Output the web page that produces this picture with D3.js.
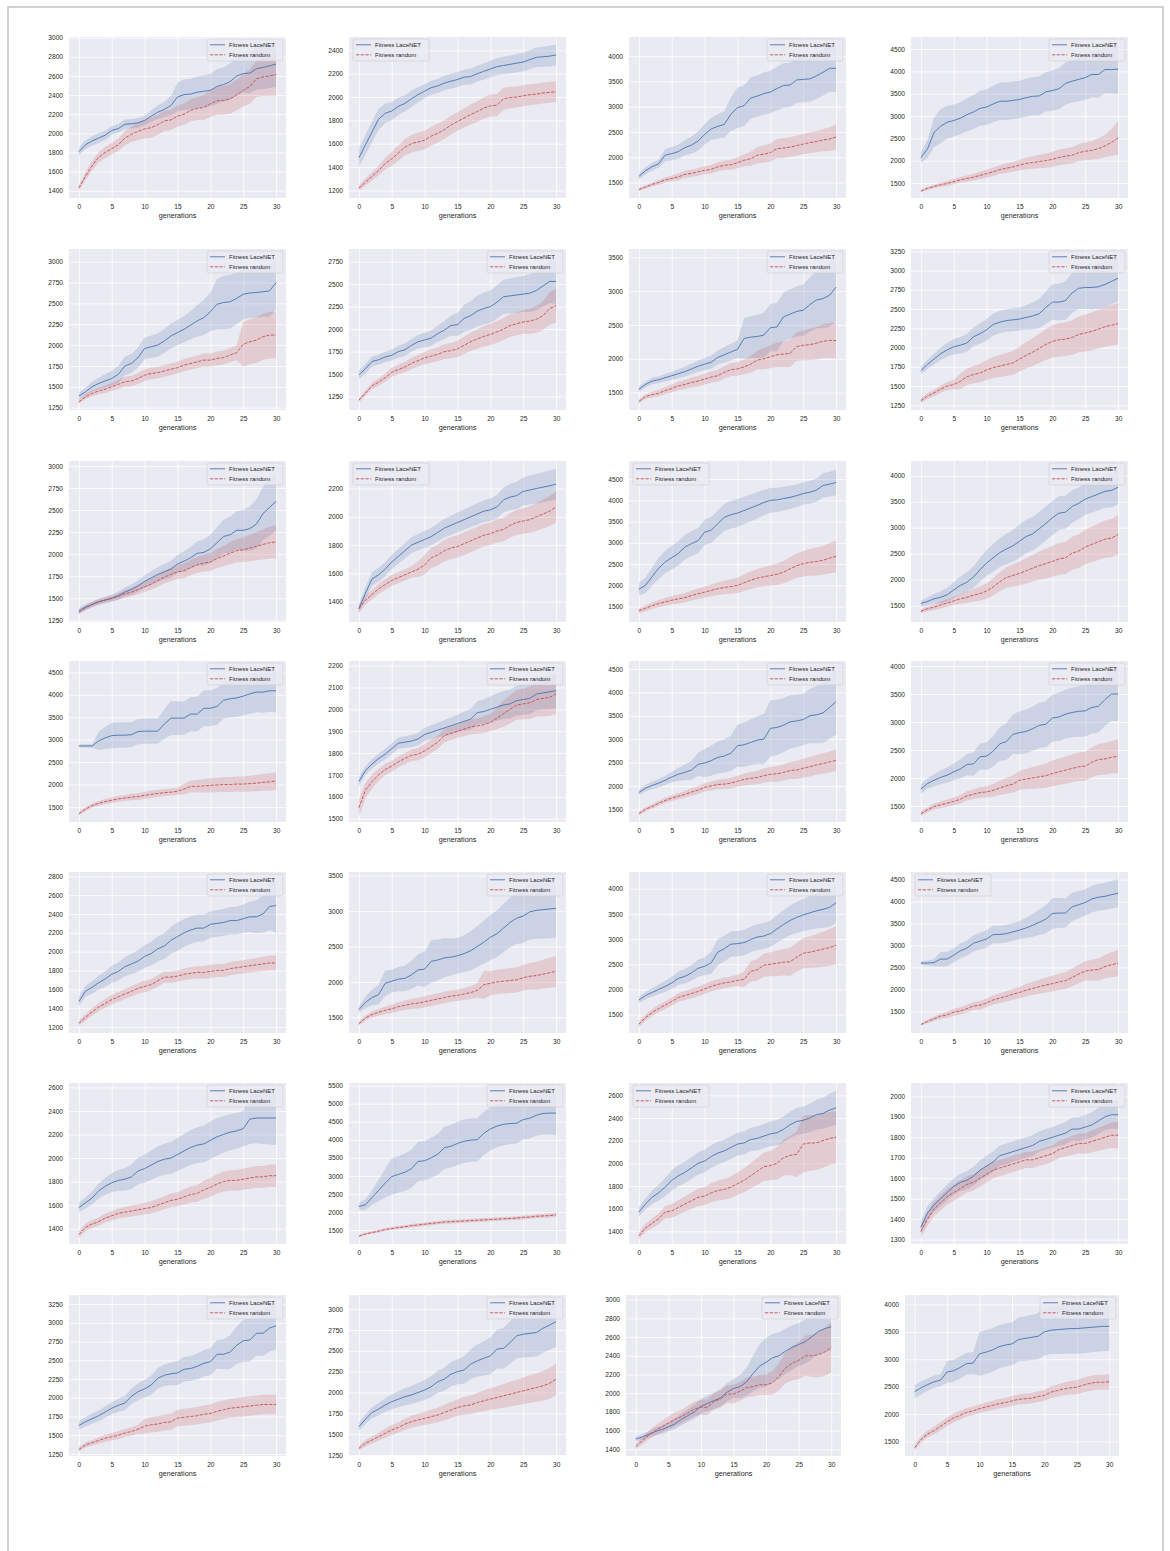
<!DOCTYPE html>
<html>
<head>
<meta charset="utf-8">
<script src="https://cdn.jsdelivr.net/npm/d3@7"></script>
<style>
  body { margin: 0; background: #fff; }
  svg text { font-family: "Liberation Sans", Arial, sans-serif; fill: #262626; }
</style>
</head>
<body>
<div id="chart"></div>
<script>
// 28 runs, 31 generations each: mean fitness and half-width of the shaded band

const generations = [0,1,2,3,4,5,6,7,8,9,10,11,12,13,14,15,16,17,18,19,20,21,22,23,24,25,26,27,28,29,30]

const laceMean = [
  [1808,1880,1920,1950,1980,2030,2050,2095,2100,2110,2135,2180,2220,2250,2290,2380,2405,2410,2430,2440,2450,2490,2510,2540,2600,2625,2630,2675,2690,2705,2725],
  [1479,1590,1700,1810,1860,1880,1920,1945,1985,2020,2050,2080,2095,2120,2135,2150,2170,2175,2200,2220,2240,2260,2270,2280,2290,2300,2320,2340,2345,2350,2360],
  [1620,1730,1810,1870,2040,2070,2110,2190,2240,2320,2450,2560,2610,2650,2850,2980,3020,3170,3210,3260,3290,3360,3420,3430,3530,3540,3550,3610,3680,3760,3760],
  [2070,2260,2630,2770,2860,2900,2950,3030,3090,3170,3200,3270,3330,3330,3350,3370,3410,3440,3450,3540,3570,3610,3730,3780,3820,3860,3930,3930,4040,4040,4050],
  [1390,1440,1500,1540,1570,1600,1650,1750,1780,1850,1960,1980,2000,2050,2110,2150,2190,2240,2290,2330,2400,2490,2510,2520,2560,2610,2625,2630,2640,2650,2750],
  [1490,1560,1640,1660,1690,1710,1750,1770,1820,1860,1880,1900,1950,1990,2040,2050,2120,2150,2200,2230,2250,2300,2360,2370,2380,2390,2400,2430,2480,2530,2530],
  [1550,1620,1670,1690,1720,1750,1780,1810,1850,1890,1920,1950,2020,2060,2100,2140,2300,2320,2330,2350,2460,2470,2620,2660,2700,2720,2800,2870,2890,2940,3060],
  [1700,1780,1850,1920,1970,2010,2030,2060,2140,2180,2230,2300,2330,2350,2360,2370,2390,2410,2440,2520,2590,2590,2610,2710,2770,2780,2780,2790,2820,2860,2900],
  [1360,1400,1430,1460,1480,1500,1530,1570,1600,1640,1690,1730,1770,1800,1830,1890,1920,1960,2010,2020,2060,2130,2200,2220,2270,2270,2290,2340,2460,2530,2600],
  [1350,1460,1560,1590,1630,1680,1720,1760,1800,1820,1840,1860,1890,1920,1940,1960,1980,2000,2020,2040,2050,2070,2120,2140,2150,2180,2190,2200,2210,2220,2230],
  [1910,2000,2200,2400,2550,2650,2750,2900,2980,3050,3250,3300,3450,3600,3660,3700,3760,3820,3880,3950,4000,4010,4040,4070,4110,4160,4190,4240,4350,4380,4420],
  [1540,1580,1630,1660,1710,1800,1890,1950,2050,2190,2320,2420,2520,2590,2650,2740,2830,2880,2980,3080,3190,3280,3300,3410,3470,3550,3600,3650,3700,3720,3780],
  [2860,2860,2860,2970,3040,3090,3100,3100,3110,3180,3190,3190,3190,3350,3480,3480,3480,3570,3570,3700,3700,3740,3880,3910,3930,3970,4020,4060,4060,4090,4090],
  [1670,1720,1750,1775,1795,1820,1845,1850,1855,1865,1885,1895,1905,1915,1925,1935,1945,1955,1985,1990,2000,2010,2020,2025,2040,2045,2050,2070,2075,2080,2085],
  [1860,1950,2010,2060,2120,2190,2250,2290,2340,2460,2490,2540,2610,2640,2700,2860,2880,2930,2980,3000,3230,3250,3300,3370,3390,3420,3500,3520,3560,3680,3800],
  [1800,1900,1960,2010,2050,2110,2160,2240,2250,2380,2390,2480,2610,2650,2780,2810,2830,2880,2940,2960,3070,3090,3140,3170,3190,3200,3260,3280,3400,3500,3500],
  [1470,1580,1620,1670,1710,1760,1790,1840,1870,1900,1950,1980,2030,2060,2120,2160,2200,2230,2250,2250,2290,2300,2310,2330,2330,2350,2370,2370,2400,2480,2490],
  [1610,1710,1780,1820,1980,2010,2040,2050,2100,2170,2180,2290,2310,2340,2350,2370,2400,2440,2500,2560,2630,2680,2760,2840,2900,2930,2990,3010,3020,3030,3040],
  [1790,1880,1940,2000,2060,2130,2220,2260,2330,2420,2460,2530,2740,2810,2900,2910,2930,2990,3040,3060,3110,3200,3290,3370,3430,3480,3520,3560,3590,3630,3720],
  [2600,2600,2610,2690,2690,2780,2880,2940,3050,3100,3150,3250,3250,3270,3310,3350,3400,3460,3530,3600,3730,3740,3740,3880,3930,3980,4060,4100,4120,4160,4190],
  [1580,1620,1660,1720,1760,1790,1810,1820,1840,1890,1910,1940,1970,1990,2000,2030,2060,2090,2110,2120,2150,2180,2200,2220,2230,2250,2330,2340,2340,2340,2340],
  [2150,2200,2400,2600,2800,2980,3040,3100,3200,3400,3420,3500,3600,3780,3820,3900,3960,3990,4000,4180,4300,4380,4430,4450,4460,4560,4600,4680,4730,4740,4740],
  [1570,1640,1700,1740,1790,1850,1890,1920,1960,2000,2020,2060,2090,2110,2140,2170,2180,2210,2220,2240,2260,2270,2300,2340,2370,2380,2400,2430,2440,2470,2490],
  [1360,1430,1470,1500,1530,1560,1580,1590,1610,1640,1660,1680,1710,1720,1730,1740,1750,1760,1780,1790,1800,1810,1820,1840,1840,1850,1860,1880,1900,1910,1910],
  [1630,1680,1720,1760,1810,1860,1900,1930,2020,2080,2120,2170,2260,2300,2320,2330,2380,2390,2420,2460,2480,2580,2580,2610,2700,2760,2770,2860,2860,2930,2960],
  [1590,1680,1760,1800,1850,1890,1920,1950,1970,2000,2030,2070,2130,2160,2220,2250,2270,2340,2380,2410,2440,2520,2530,2600,2680,2700,2710,2720,2770,2810,2850],
  [1510,1530,1560,1590,1610,1640,1670,1720,1760,1800,1860,1890,1920,1950,2010,2050,2070,2120,2210,2290,2330,2380,2400,2450,2490,2520,2550,2600,2660,2690,2710],
  [2410,2480,2540,2590,2620,2770,2790,2850,2920,2930,3100,3130,3170,3230,3260,3280,3360,3380,3400,3420,3500,3530,3540,3550,3560,3560,3570,3580,3590,3600,3600]
]

const laceSpread = [
  [40,45,50,50,50,45,45,50,50,50,50,60,70,80,100,150,160,160,165,165,170,180,180,190,200,200,210,220,230,230,240],
  [80,85,90,90,85,80,75,70,70,65,60,60,60,62,64,65,66,67,68,69,70,72,74,76,78,80,82,84,86,88,90],
  [60,70,75,80,120,130,140,150,170,190,200,220,240,260,330,400,400,410,410,415,420,430,440,440,450,450,450,460,460,470,470],
  [120,200,330,380,370,360,360,370,380,390,400,410,420,420,420,420,425,430,435,440,450,460,470,480,490,500,510,520,530,540,550],
  [40,50,60,70,80,90,100,110,115,120,130,135,140,145,150,150,160,170,190,210,230,300,320,320,310,300,300,300,300,310,320],
  [50,52,55,57,58,60,65,70,72,75,80,85,90,100,110,130,150,160,170,175,180,185,190,195,198,200,210,220,230,240,250],
  [40,45,48,52,56,60,66,72,78,84,90,98,106,114,122,130,300,310,320,330,350,355,360,365,370,380,400,420,440,470,500],
  [50,60,70,80,90,100,108,116,124,132,140,142,144,146,148,150,160,175,190,210,230,240,250,260,270,280,285,290,295,298,300],
  [30,32,34,36,38,40,46,52,58,64,70,76,82,88,94,100,112,124,136,148,160,175,190,205,218,230,250,280,300,320,330],
  [30,40,50,50,50,50,52,54,56,58,60,62,64,66,68,70,72,74,76,78,80,84,88,92,96,100,102,104,106,108,110],
  [150,180,210,250,265,280,285,290,295,298,300,305,310,320,325,330,325,318,310,300,290,285,280,275,268,260,268,276,284,292,300],
  [60,78,96,114,132,150,170,190,210,230,250,264,278,292,306,320,322,324,326,328,330,324,318,312,306,300,306,312,318,324,330],
  [30,35,40,200,250,280,280,280,280,280,280,280,280,330,380,375,370,380,385,395,400,405,410,415,420,430,440,450,460,470,480],
  [20,21,22,23,24,25,26,27,28,29,30,32,34,36,38,40,44,48,52,56,60,62,64,66,68,70,72,74,76,78,80],
  [60,70,80,90,100,110,140,170,200,250,300,320,340,360,380,450,470,490,510,540,600,590,580,570,560,550,580,610,640,670,700],
  [80,94,108,122,136,150,170,190,210,230,250,276,302,328,354,380,388,396,404,412,420,428,436,444,452,460,464,468,472,476,480],
  [50,58,66,74,82,90,96,102,108,114,120,126,132,138,144,150,148,146,144,142,140,142,144,146,148,150,160,175,200,250,290],
  [50,80,110,140,180,160,170,180,200,220,250,300,290,275,260,250,260,275,290,305,320,330,340,350,365,380,390,400,410,415,420],
  [60,72,84,96,108,120,132,144,156,168,180,220,260,255,250,250,252,254,256,258,260,272,284,296,308,320,336,352,368,384,400],
  [40,60,80,170,165,160,168,176,184,192,200,200,200,200,200,200,230,260,290,320,350,340,330,320,310,300,304,308,312,316,320],
  [40,48,56,64,72,80,88,96,104,112,120,124,128,132,136,140,144,148,152,156,160,158,156,154,152,150,210,215,220,225,230],
  [100,150,200,300,400,500,510,520,530,540,550,560,570,580,590,600,600,600,600,600,600,590,580,570,560,550,560,570,580,590,600],
  [40,50,60,70,80,90,92,94,96,98,100,100,100,100,100,100,102,104,106,108,110,112,114,116,118,120,126,132,138,144,150],
  [30,32,34,36,38,40,42,44,46,48,50,50,50,50,50,50,50,50,50,50,50,52,54,56,58,60,62,64,66,68,70],
  [60,64,68,72,76,80,88,96,104,112,120,128,136,144,152,160,164,168,172,176,180,190,200,225,250,280,288,296,304,312,320],
  [50,58,66,74,82,90,96,102,108,114,120,126,132,138,144,150,164,178,192,206,220,232,244,256,268,280,284,288,292,296,300],
  [25,30,35,40,45,50,56,62,68,74,80,84,88,92,96,100,125,150,190,230,260,254,248,242,236,230,234,238,242,246,250],
  [120,118,116,114,110,200,200,200,200,200,400,398,396,394,392,390,398,406,414,422,430,436,442,448,454,460,458,456,454,452,450]
]

const randMean = [
  [1430,1550,1660,1750,1800,1840,1880,1950,1990,2020,2045,2060,2090,2130,2140,2180,2200,2240,2260,2270,2310,2340,2345,2360,2400,2450,2490,2570,2590,2600,2615],
  [1220,1270,1320,1370,1430,1470,1520,1570,1600,1615,1630,1665,1690,1720,1760,1790,1820,1850,1875,1905,1925,1930,1985,1995,2000,2010,2020,2025,2035,2040,2045],
  [1360,1410,1460,1500,1550,1580,1610,1660,1680,1710,1740,1760,1810,1840,1850,1890,1940,1970,2040,2060,2090,2170,2180,2200,2230,2260,2290,2310,2340,2360,2400],
  [1320,1380,1420,1460,1490,1530,1570,1600,1630,1670,1710,1750,1800,1830,1860,1900,1940,1960,1980,2000,2030,2070,2100,2120,2180,2210,2230,2270,2330,2410,2510],
  [1320,1380,1420,1450,1470,1500,1530,1560,1570,1600,1640,1660,1670,1690,1710,1730,1760,1780,1800,1820,1820,1840,1850,1880,1910,2010,2040,2060,2100,2120,2120],
  [1210,1290,1370,1410,1460,1520,1550,1580,1620,1650,1680,1700,1720,1750,1760,1780,1820,1860,1890,1920,1940,1970,2000,2040,2060,2080,2090,2110,2150,2230,2260],
  [1370,1440,1470,1490,1530,1560,1600,1620,1650,1670,1700,1730,1750,1800,1840,1850,1880,1920,1980,2000,2030,2060,2070,2080,2180,2200,2210,2230,2260,2270,2270],
  [1310,1370,1410,1460,1500,1520,1560,1620,1650,1670,1710,1740,1760,1780,1800,1850,1900,1940,1990,2040,2080,2100,2110,2130,2170,2190,2210,2240,2270,2290,2310],
  [1340,1390,1430,1460,1480,1500,1520,1550,1570,1600,1630,1660,1700,1740,1770,1800,1810,1850,1880,1900,1910,1950,1980,2010,2040,2050,2070,2090,2110,2130,2140],
  [1350,1410,1450,1490,1520,1550,1570,1590,1610,1630,1660,1710,1730,1760,1780,1790,1810,1830,1850,1870,1880,1900,1910,1940,1960,1970,1980,2000,2020,2040,2070],
  [1400,1460,1520,1570,1610,1650,1680,1710,1760,1800,1840,1880,1920,1950,1970,2000,2060,2120,2170,2200,2230,2260,2310,2390,2460,2510,2540,2560,2590,2640,2680],
  [1390,1440,1470,1510,1550,1590,1630,1660,1700,1730,1780,1860,1960,2040,2080,2120,2170,2220,2270,2310,2350,2400,2420,2510,2550,2630,2680,2730,2780,2800,2870],
  [1350,1450,1530,1580,1620,1650,1680,1700,1720,1730,1760,1780,1800,1820,1830,1850,1900,1960,1960,1970,1980,1990,2000,2000,2010,2010,2020,2030,2050,2060,2080],
  [1550,1630,1670,1700,1725,1740,1760,1775,1790,1795,1810,1830,1850,1880,1890,1900,1910,1920,1925,1930,1940,1960,1980,2000,2020,2025,2030,2045,2050,2055,2070],
  [1410,1500,1560,1630,1690,1740,1780,1820,1870,1910,1970,2000,2030,2040,2060,2100,2140,2160,2180,2220,2250,2260,2290,2330,2340,2380,2410,2450,2480,2510,2550],
  [1360,1430,1490,1520,1550,1580,1620,1680,1710,1740,1750,1780,1820,1860,1890,1960,1980,2000,2020,2040,2080,2110,2140,2170,2200,2210,2280,2330,2340,2370,2390],
  [1240,1300,1360,1410,1450,1490,1520,1550,1580,1610,1630,1650,1690,1730,1730,1740,1760,1770,1780,1780,1790,1800,1800,1820,1830,1840,1850,1860,1870,1880,1880],
  [1410,1490,1540,1570,1600,1620,1650,1670,1690,1700,1720,1740,1760,1780,1800,1810,1830,1850,1880,1960,1980,2000,2010,2020,2030,2060,2080,2090,2110,2130,2150],
  [1310,1440,1540,1620,1690,1760,1840,1880,1920,1960,2010,2060,2100,2130,2150,2180,2200,2360,2390,2480,2500,2520,2540,2550,2640,2720,2740,2770,2800,2830,2880],
  [1200,1270,1330,1390,1420,1480,1510,1560,1620,1640,1690,1760,1800,1840,1890,1930,1980,2020,2060,2100,2130,2170,2200,2270,2350,2420,2440,2450,2520,2560,2600],
  [1350,1410,1440,1460,1490,1510,1530,1540,1550,1560,1570,1580,1600,1620,1640,1650,1670,1690,1700,1730,1750,1780,1800,1810,1810,1820,1830,1840,1840,1850,1850],
  [1330,1390,1430,1470,1510,1540,1570,1590,1620,1640,1660,1680,1700,1720,1730,1740,1750,1760,1770,1780,1790,1800,1810,1820,1830,1850,1860,1880,1890,1900,1920],
  [1360,1430,1470,1510,1570,1580,1610,1640,1670,1700,1710,1740,1760,1770,1790,1820,1850,1890,1930,1970,1980,2000,2050,2070,2080,2170,2180,2180,2200,2220,2230],
  [1340,1400,1450,1480,1510,1530,1550,1570,1580,1600,1620,1640,1650,1660,1670,1680,1690,1690,1700,1710,1720,1740,1750,1760,1770,1770,1780,1790,1800,1810,1810],
  [1310,1370,1400,1430,1460,1480,1500,1530,1550,1580,1620,1640,1650,1670,1680,1730,1740,1750,1760,1780,1790,1820,1840,1860,1870,1880,1890,1900,1910,1910,1910],
  [1330,1390,1430,1470,1510,1550,1580,1620,1650,1670,1690,1710,1730,1760,1790,1820,1840,1850,1880,1900,1920,1940,1960,1980,2000,2020,2040,2060,2080,2110,2160],
  [1430,1490,1550,1600,1640,1680,1720,1750,1790,1830,1850,1850,1910,1940,1990,1990,2020,2060,2070,2090,2090,2110,2180,2270,2320,2350,2400,2400,2410,2440,2490],
  [1390,1540,1640,1700,1780,1860,1930,1980,2030,2060,2100,2130,2160,2190,2210,2240,2270,2280,2290,2320,2340,2400,2430,2460,2480,2490,2530,2560,2580,2580,2590]
]

const randSpread = [
  [30,40,50,55,60,60,65,75,80,90,100,105,105,105,105,110,110,115,120,130,140,145,150,155,160,170,180,190,200,210,220],
  [25,30,35,40,50,60,65,70,75,78,80,80,80,80,80,80,82,85,88,92,95,95,95,92,90,90,90,90,90,90,90],
  [30,35,40,45,55,60,65,70,72,75,80,85,90,95,100,110,120,140,160,170,180,190,195,195,198,200,205,210,220,235,250],
  [30,35,40,45,55,60,65,70,75,80,90,95,100,105,110,120,130,140,150,160,170,175,180,185,190,200,210,230,250,300,380],
  [25,30,35,40,45,50,55,60,62,65,70,70,70,70,70,70,72,74,76,78,80,82,84,86,90,270,270,275,275,280,280],
  [25,30,35,40,45,50,55,58,62,66,70,74,78,82,86,90,96,102,108,114,120,122,124,126,128,130,140,150,160,180,190],
  [30,36,42,48,54,60,64,68,72,76,80,84,88,92,96,100,110,125,140,155,170,180,190,200,210,220,230,240,250,260,270],
  [30,36,42,48,54,60,100,106,112,120,130,136,142,148,154,160,170,180,190,200,210,215,220,225,232,240,245,250,258,264,270],
  [25,26,27,28,29,30,36,42,48,54,60,64,68,72,76,80,84,88,92,96,100,108,116,124,132,140,150,160,170,180,190],
  [30,32,34,36,38,40,40,40,40,55,70,72,74,76,78,80,80,80,80,80,80,82,84,86,88,90,94,98,102,106,110],
  [60,68,76,84,92,100,106,112,118,124,130,140,150,160,170,180,192,204,216,228,240,252,264,276,288,300,314,328,342,356,370],
  [40,48,56,64,72,80,94,108,122,136,150,166,182,198,214,230,244,258,272,286,300,306,312,318,324,330,340,350,360,370,380],
  [40,45,50,54,58,60,64,68,72,76,80,80,80,80,80,80,120,130,140,150,160,162,164,166,168,170,176,182,188,194,200],
  [40,36,32,28,26,25,25,26,27,28,30,30,30,30,30,30,32,34,36,38,40,50,60,64,68,70,74,78,82,86,90],
  [40,44,48,52,56,60,66,72,78,84,90,96,102,108,114,120,128,136,144,152,160,168,176,184,192,200,206,212,218,224,230],
  [40,46,52,58,64,70,76,82,88,94,100,114,128,142,156,170,182,194,206,218,230,236,242,248,254,260,268,276,284,292,300],
  [30,34,38,42,46,50,52,54,56,58,60,60,60,60,60,60,62,64,66,68,70,70,70,70,70,70,72,74,76,78,80],
  [30,36,42,48,54,60,64,68,72,76,80,80,80,80,80,80,85,90,100,200,170,172,174,176,178,180,188,196,204,212,220],
  [60,64,68,72,76,80,84,88,92,96,100,102,104,106,108,110,150,200,215,230,240,252,264,276,288,300,316,332,348,364,380],
  [30,40,50,60,70,80,84,88,92,96,100,106,112,118,124,130,140,150,160,170,180,188,196,204,212,220,236,252,268,284,300],
  [30,32,34,36,38,40,42,44,46,48,50,52,54,56,58,60,64,68,72,76,80,82,84,86,88,90,91,92,93,94,95],
  [30,32,34,36,38,40,42,44,46,48,50,50,50,50,50,50,50,50,50,50,50,50,50,50,50,50,52,54,56,58,60],
  [30,36,42,48,54,60,64,68,72,76,80,84,88,92,96,100,106,112,118,124,130,144,158,172,200,250,246,242,238,234,230],
  [30,32,34,36,38,40,40,40,40,40,40,40,40,40,40,40,40,40,40,40,40,42,44,46,48,50,53,56,59,62,65],
  [30,34,38,42,46,50,52,54,57,60,100,102,104,106,108,110,112,114,116,118,120,122,124,126,128,130,130,130,130,130,130],
  [30,36,42,48,54,60,64,68,72,76,80,84,88,92,96,100,106,112,118,124,130,136,142,148,154,160,166,172,178,184,190],
  [30,38,46,54,62,70,72,74,76,78,80,84,88,92,96,100,102,104,106,108,110,128,146,164,182,200,214,228,242,256,270],
  [50,56,62,68,74,80,80,80,80,80,80,82,84,86,88,90,92,94,96,98,100,106,112,118,124,130,132,134,136,138,140]
]

const yDomains = [
  [1324,3007],[1135,2514],[1192,4380],[1164,4769],
  [1222,3152],[1101,2891],[1243,3623],[1189,3280],
  [1231,3056],[1256,2395],[1137,4925],[1184,4285],
  [1165,4753],[1485,2221],[1229,4671],[1213,4090],
  [1136,2846],[1279,3552],[1136,4331],[1006,4675],
  [1270,2637],[1112,5574],[1288,2709],[1279,2065],
  [1223,3371],[1238,3170],[1328,3050],[1236,4172]
]

const yTickSteps = [
  200,200,500,500,
  250,250,500,250,
  250,200,500,500,
  500,100,500,500,
  200,500,500,500,
  200,500,200,100,
  250,250,200,500
]

const xTicks = [0,5,10,15,20,25,30]

const legendSide = [
  "right","left","right","right",
  "right","right","right","right",
  "right","left","left","right",
  "right","right","right","right",
  "right","right","right","left",
  "right","right","left","right",
  "right","right","right","right"
]

const seriesNames = ["Fitness LaceNET", "Fitness random"]

const width = 1170
const height = 1551
const colX = [69, 349, 629, 911]
const rowY = [37, 249, 461, 661, 872, 1083, 1295]
const plotW = 217
const plotH = 161
const blue = "#4C72B0"
const red = "#C44E52"

const svg = d3.select("#chart")
  .append("svg")
    .attr("width", width)
    .attr("height", height)

// page frame
svg.append("rect")
    .attr("x", 8)
    .attr("y", 7)
    .attr("width", 1155)
    .attr("height", 1600)
    .attr("fill", "none")
    .attr("stroke", "#c4c4c4")
    .attr("stroke-width", 1.5)

laceMean.forEach((d, i) => drawPanel(i))

function drawPanel(i) {
  const row = Math.floor(i / 4)
  const col = i % 4
  let x0 = colX[col]
  let w = plotW
  if (i === 26) { x0 = 626; w = 215 }
  if (i === 27) { x0 = 905; w = 214 }
  const y0 = rowY[row]
  const h = plotH

  const x = d3.scaleLinear().domain([-1.5, 31.5]).range([x0, x0 + w])
  const y = d3.scaleLinear().domain(yDomains[i]).range([y0 + h, y0])
  const step = yTickSteps[i]
  const yTicks = d3.range(Math.ceil(yDomains[i][0] / step) * step, yDomains[i][1], step)

  const g = svg.append("g")

  // Background
  g.append("rect")
      .attr("x", x0)
      .attr("y", y0)
      .attr("width", w)
      .attr("height", h)
      .attr("fill", "#EAEAF2")

  g.append("clipPath")
      .attr("id", "clip" + i)
    .append("rect")
      .attr("x", x0)
      .attr("y", y0)
      .attr("width", w)
      .attr("height", h)

  // Axes with white grid
  const yAxis = g.append("g")
      .attr("transform", "translate(" + x0 + ",0)")
      .call(d3.axisLeft(y).tickValues(yTicks).tickSizeInner(-w).tickSizeOuter(0).tickPadding(6).tickFormat(d3.format("d")))
  const xAxis = g.append("g")
      .attr("transform", "translate(0," + (y0 + h) + ")")
      .call(d3.axisBottom(x).tickValues(xTicks).tickSizeInner(-h).tickSizeOuter(0).tickPadding(6.6))

  ;[yAxis, xAxis].forEach(ax => {
    ax.attr("font-size", null).attr("font-family", null)
    ax.select(".domain").remove()
    ax.selectAll("line").attr("stroke", "#fff").attr("stroke-width", 0.8)
    ax.selectAll("text").attr("font-size", 6.6).attr("fill", "#262626")
  })

  g.append("text")
      .text("generations")
      .attr("x", x0 + w / 2)
      .attr("y", y0 + h + 20)
      .attr("text-anchor", "middle")
      .attr("font-size", 7.2)

  const series = [
    { mean: laceMean[i], spread: laceSpread[i], color: blue, dash: null },
    { mean: randMean[i], spread: randSpread[i], color: red, dash: "3.3,1.4" }
  ]

  const plot = g.append("g").attr("clip-path", "url(#clip" + i + ")")

  // Bands
  series.forEach(s => {
    const area = d3.area()
      .x((d, k) => x(generations[k]))
      .y0((d, k) => y(d - s.spread[k]))
      .y1((d, k) => y(d + s.spread[k]))
    plot.append("path")
        .attr("d", area(s.mean))
        .attr("fill", s.color)
        .attr("fill-opacity", 0.2)
  })

  // Lines
  series.forEach(s => {
    const line = d3.line()
      .x((d, k) => x(generations[k]))
      .y(d => y(d))
    plot.append("path")
        .attr("d", line(s.mean))
        .attr("fill", "none")
        .attr("stroke", s.color)
        .attr("stroke-width", 0.9)
        .attr("stroke-dasharray", s.dash)
  })

  // Legend
  const lw = 76
  const lx = legendSide[i] === "left" ? x0 + 4 : x0 + w - lw - 3
  const ly = y0 + 2
  const legend = g.append("g")
  legend.append("rect")
      .attr("x", lx)
      .attr("y", ly)
      .attr("width", lw)
      .attr("height", 22)
      .attr("rx", 1.5)
      .attr("fill", "#EAEAF2")
      .attr("fill-opacity", 0.8)
      .attr("stroke", "#cccccc")
      .attr("stroke-width", 0.6)

  series.forEach((s, k) => {
    const cy = ly + 5.8 + k * 10
    legend.append("line")
        .attr("x1", lx + 3)
        .attr("x2", lx + 18)
        .attr("y1", cy)
        .attr("y2", cy)
        .attr("stroke", s.color)
        .attr("stroke-width", 0.9)
        .attr("stroke-dasharray", s.dash)
    legend.append("text")
        .text(seriesNames[k])
        .attr("x", lx + 22)
        .attr("y", cy + 2.1)
        .attr("font-size", 6)
  })
}
</script>
</body>
</html>
